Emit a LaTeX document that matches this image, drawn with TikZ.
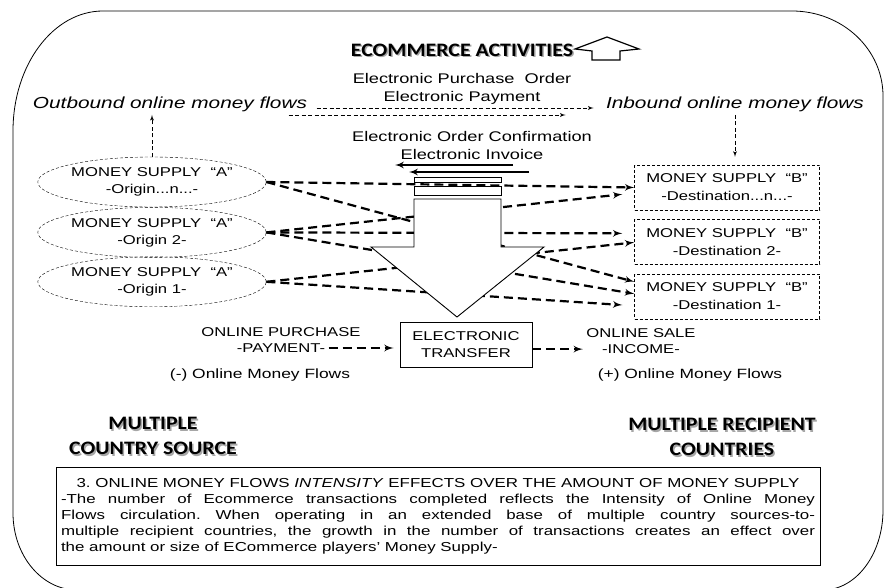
\documentclass[tikz,border=0pt]{standalone}
\usepackage{fontspec}
\setmainfont[FakeStretch=1.3]{Liberation Sans}
\newfontfamily\headfont[FakeStretch=1.15]{Carlito}
\usetikzlibrary{arrows,shapes.geometric,positioning}

\tikzset{
  supply/.style={ellipse,draw,dash pattern=on 3pt off 2pt,inner sep=0pt,minimum width=216pt,minimum height=50pt,align=center,font=\fontsize{12.8}{17}\selectfont},
  dest/.style={rectangle,draw,dash pattern=on 3pt off 2pt,minimum width=185pt,minimum height=45pt,align=center,font=\fontsize{12.8}{18}\selectfont},
  txt/.style={font=\fontsize{12.8}{17}\selectfont},
  flow/.style={->,line width=2.2pt,dash pattern=on 9pt off 5pt},
  thinflow/.style={->,line width=0.9pt,dash pattern=on 4pt off 2.5pt},
  bigarrow/.style={draw,fill=white,line width=0.9pt},
  heading/.style={font=\headfont\bfseries\fontsize{19}{25}\selectfont,align=center},
  headshadow/.style={heading,text=black!35}
}

\begin{document}
\begin{tikzpicture}[x=1pt,y=-1pt,>=latex']
\useasboundingbox (0,0) rectangle (884,588);

\draw[line width=0.8pt] (13,131) arc[start angle=180,end angle=270,x radius=90,y radius=120] -- (792,11)
  arc[start angle=270,end angle=360,x radius=91,y radius=85] -- (883,510)
  arc[start angle=0,end angle=90,x radius=60,y radius=80] -- (77,590)
  arc[start angle=90,end angle=180,x radius=64,y radius=77] -- cycle;

\node[headshadow] at (463.5,51.5) {ECOMMERCE ACTIVITIES};
\node[heading] (title) at (462,50) {ECOMMERCE ACTIVITIES};
\draw[line width=1.2pt] (592,60) -- (592,51) -- (575,49) -- (607,37) -- (639,49) -- (620,51) -- (620,60) -- cycle;

\node[font=\fontsize{14}{18}\selectfont,align=center] (order) at (462,89) {Electronic Purchase~~Order\\Electronic Payment};
\node[font=\fontsize{14}{18}\selectfont,align=center] (confirm) at (472,145) {Electronic Order Confirmation\\Electronic Invoice};
\node[font=\fontsize{16}{18}\selectfont\itshape] (outb) at (170,104) {Outbound online money flows};
\node[font=\fontsize{16}{18}\selectfont\itshape] (inb) at (735,104) {Inbound online money flows};

\node[supply] (an) at (152,182) {MONEY SUPPLY~~“A”\\-Origin...n...-};
\node[supply,below=0pt of an] (a2) {MONEY SUPPLY~~“A”\\-Origin 2-};
\node[supply,below=-1pt of a2] (a1) {MONEY SUPPLY~~“A”\\-Origin 1-};

\node[dest] (bn) at (727,187.5) {MONEY SUPPLY~~“B”\\-Destination...n...-};
\node[dest,below=9pt of bn] (b2) {MONEY SUPPLY~~“B”\\-Destination 2-};
\node[dest,below=9pt of b2] (b1) {MONEY SUPPLY~~“B”\\-Destination 1-};

\path[thinflow] (an.north) edge (an.north |- outb.south)
                (inb.south) edge[shorten >=8pt] (inb.south |- bn.north)
                ([xshift=6pt,yshift=-4pt]outb.east) edge ([xshift=-9pt,yshift=-4pt]inb.west)
                ([xshift=-22pt,yshift=-11pt]outb.east) edge ([xshift=-37pt,yshift=-11pt]inb.west);

\path[flow] (an.east) edge (bn.west)
            (an.east) edge ([yshift=14.5pt]b1.west)
            (a2.east) edge[shorten >=12pt] ([yshift=-5.5pt]bn.west)
            (a2.east) edge[shorten >=12pt] ([yshift=8.5pt]b2.west)
            (a2.east) edge ([yshift=2.5pt]b1.west)
            (a1.east) edge ([yshift=-0.5pt]b2.west)
            (a1.east) edge[shorten >=12pt] ([yshift=-9.5pt]b1.west);

\draw[bigarrow] (414,177) rectangle (501,182);
\draw[bigarrow] (414,186) rectangle (501,195);
\draw[bigarrow] (414,199) -- (501,199) -- (501,247) -- (544,247) -- (457,317) -- (371,247) -- (414,247) -- cycle;

\coordinate (r1) at (513,165);
\coordinate (l1) at (395,165);
\coordinate (r2) at (529,172);
\coordinate (l2) at (409,172);
\draw[->,line width=2pt] (r1) -- (l1);
\draw[->,line width=2pt] (r2) -- (l2);

\node[draw,line width=0.8pt,minimum width=132pt,minimum height=45pt,align=center,txt] (etrans) at (466,344.5) {ELECTRONIC\\TRANSFER};
\node[txt] (purch) at (281,332) {ONLINE PURCHASE};
\node[txt,below=0pt of purch] (pay) {-PAYMENT-};
\node[txt] (sale) at (641,333) {ONLINE SALE};
\node[txt,below=0pt of sale] (income) {-INCOME-};
\path[flow] (pay.east) edge[shorten >=6pt] (pay.east -| etrans.west)
            (etrans.east |- income.west) edge (sale.west |- income.west);

\node[font=\fontsize{13.4}{16}\selectfont] (neg) at (260,375) {(-) Online Money Flows};
\node[font=\fontsize{13.4}{16}\selectfont] (pos) at (690,375) {(+) Online Money Flows};

\node[headshadow] at (154.5,437.5) {MULTIPLE\\COUNTRY SOURCE};
\node[heading] (src) at (153,436) {MULTIPLE\\COUNTRY SOURCE};
\node[headshadow] at (723.5,438.5) {MULTIPLE RECIPIENT\\COUNTRIES};
\node[heading] (rcp) at (722,437) {MULTIPLE RECIPIENT\\COUNTRIES};

\node[draw,line width=0.8pt,text width=754pt,inner sep=5pt,minimum height=98pt,align=justify,font=\fontsize{13}{16}\selectfont] (intens) at (438,516)
  {\parindent=0pt\frenchspacing{\centering 3. ONLINE MONEY FLOWS \textit{INTENSITY} EFFECTS OVER THE AMOUNT OF MONEY SUPPLY\par}
   -The number of Ecommerce transactions completed reflects the Intensity of Online Money\linebreak
   Flows circulation. When operating in an extended base of multiple country sources-to-\linebreak
   multiple recipient countries, the growth in the number of transactions creates an effect over\linebreak
   the amount or size of ECommerce players’ Money Supply-};
\end{tikzpicture}
\end{document}
